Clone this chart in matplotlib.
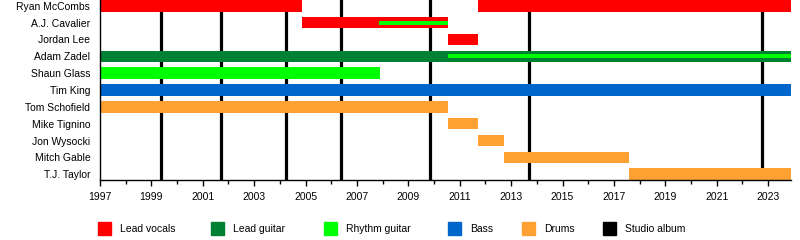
import numpy as np
import matplotlib
matplotlib.use("Agg")
import matplotlib.pyplot as plt
from matplotlib.patches import Rectangle

plt.rcParams['font.family'] = ['Liberation Sans', 'DejaVu Sans']

# members, top to bottom
members = ["Ryan McCombs", "A.J. Cavalier", "Jordan Lee", "Adam Zadel", "Shaun Glass",
           "Tim King", "Tom Schofield", "Mike Tignino", "Jon Wysocki", "Mitch Gable", "T.J. Taylor"]

END = 2023.9

# (member, role, start, end) main bars
spans = [
    ("Ryan McCombs", "Lead vocals", 1997.0, 2004.86),
    ("Ryan McCombs", "Lead vocals", 2011.7, END),
    ("A.J. Cavalier", "Lead vocals", 2004.86, 2010.56),
    ("Jordan Lee", "Lead vocals", 2010.56, 2011.7),
    ("Adam Zadel", "Lead guitar", 1997.0, END),
    ("Shaun Glass", "Rhythm guitar", 1997.0, 2007.9),
    ("Tim King", "Bass", 1997.0, END),
    ("Tom Schofield", "Drums", 1997.0, 2010.56),
    ("Mike Tignino", "Drums", 2010.56, 2011.7),
    ("Jon Wysocki", "Drums", 2011.7, 2012.74),
    ("Mitch Gable", "Drums", 2012.74, 2017.6),
    ("T.J. Taylor", "Drums", 2017.6, END),
]

# secondary roles drawn as thin stripe inside the bar
stripes = [
    ("A.J. Cavalier", "Rhythm guitar", 2007.87, 2010.56),
    ("Adam Zadel", "Rhythm guitar", 2010.56, END),
]

albums = [1999.38, 2001.69, 2004.25, 2006.36, 2009.83, 2013.69, 2022.78]

roles = ["Lead vocals", "Lead guitar", "Rhythm guitar", "Bass", "Drums", "Studio album"]
colors = {"Lead vocals": "#ff0000", "Lead guitar": "#008033", "Rhythm guitar": "#00ff00",
          "Bass": "#0066cc", "Drums": "#ffa033", "Studio album": "#000000"}

bar_h = 0.69
stripe_h = 0.24

fig = plt.figure(figsize=(8, 2.4), dpi=100)
ax = fig.add_axes([0.125, 0.25, 0.864, 0.75])

ypos = {m: i for i, m in enumerate(members)}

for x in albums:
    ax.axvline(x, color="black", lw=2.3, zorder=1)

for m, r, s, e in spans:
    ax.barh(ypos[m], e - s, left=s, height=bar_h, color=colors[r], zorder=2, linewidth=0)
for m, r, s, e in stripes:
    ax.barh(ypos[m], e - s, left=s, height=stripe_h, color=colors[r], zorder=3, linewidth=0)

ax.set_xlim(1997, END)
ax.set_ylim(len(members) - 1 + bar_h / 2, -bar_h / 2)
ax.set_yticks(range(len(members)))
ax.set_yticklabels(members, fontsize=7.5)
ax.tick_params(axis="y", length=0, pad=7)
ax.set_xticks(np.arange(1997, 2024, 2))
ax.set_xticks(np.arange(1997, 2024, 1), minor=True)
ax.tick_params(axis="x", which="major", length=4, width=1, labelsize=7.5, pad=5)
ax.tick_params(axis="x", which="minor", length=3, width=1)
ax.spines["top"].set_visible(False)
ax.spines["right"].set_visible(False)
ax.spines["left"].set_linewidth(1)
ax.spines["bottom"].set_linewidth(1)

# legend row
leg_x = [98, 211, 324, 448, 522, 603]
for r, lx in zip(roles, leg_x):
    fig.patches.append(Rectangle((lx / 800, 1 - 235 / 240), 13 / 800, 13 / 240,
                                 transform=fig.transFigure, color=colors[r]))
    fig.text((lx + 22) / 800, 1 - 229 / 240, r, fontsize=7.5, va="center", ha="left")

fig.savefig("out.png", dpi=100)
